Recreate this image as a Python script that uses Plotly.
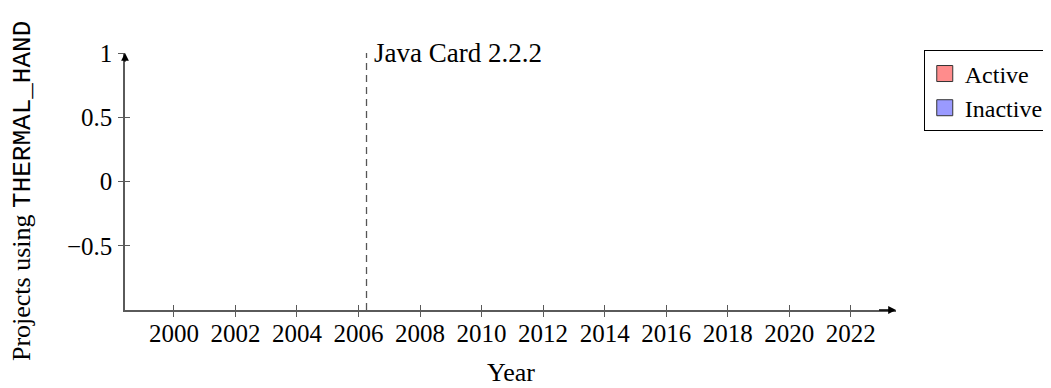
import plotly.graph_objects as go

# Data (the reference plot contains no data points for either series)
years = []
active = []
inactive = []

series_names = ["Active", "Inactive"]
series_fill = ["#ff8c8c", "#9a9aff"]

x_tickvals = [2000, 2002, 2004, 2006, 2008, 2010, 2012, 2014, 2016, 2018, 2020, 2022]
y_tickvals = [-0.5, 0, 0.5, 1]
y_ticktext = ["\u22120.5", "0", "0.5", "1"]

x_range = [1998.41, 2023.47]
y_range = [-1.0, 1.0]

event_x = 2006.26
event_label = "Java Card 2.2.2"

SERIF = "Liberation Serif"
MONO = "Liberation Mono"
AXIS_COLOR = "#5a5a5a"

fig = go.Figure()

for name, vals, col in zip(series_names, [active, inactive], series_fill):
    fig.add_trace(go.Scatter(
        x=years if years else [None], y=vals if vals else [None],
        name=name, mode="markers",
        marker=dict(symbol="square", size=17, color=col,
                    line=dict(color="#333333", width=1)),
    ))

# invisible overlay to get "crossing" ticks (inside part)
fig.add_trace(go.Scatter(x=[None], y=[None], xaxis="x2", yaxis="y2",
                         showlegend=False, hoverinfo="skip"))

# event line
fig.add_shape(type="line", xref="x", yref="y",
              x0=event_x, x1=event_x, y0=y_range[0], y1=y_range[1],
              line=dict(color="#555555", width=1.3, dash="7px,5px"))

fig.add_annotation(x=event_x, y=y_range[1], xref="x", yref="y",
                   text=event_label, showarrow=False,
                   xanchor="left", yanchor="middle", xshift=5,
                   font=dict(family=SERIF, size=27, color="black"))

# axis arrows
fig.add_annotation(x=x_range[1], y=y_range[0], ax=x_range[1] - 0.6, ay=y_range[0],
                   xref="x", yref="y", axref="x", ayref="y",
                   text="", showarrow=True, arrowhead=2, arrowsize=1.2,
                   arrowwidth=1.3, arrowcolor="black")
fig.add_annotation(x=x_range[0], y=y_range[1], ax=x_range[0], ay=y_range[1] - 0.08,
                   xref="x", yref="y", axref="x", ayref="y",
                   text="", showarrow=True, arrowhead=2, arrowsize=1.2,
                   arrowwidth=1.3, arrowcolor="black")

# axis titles
fig.add_annotation(x=0.5, y=-0.2424, xref="paper", yref="paper",
                   text="Year", showarrow=False, xanchor="center", yanchor="middle",
                   font=dict(family=SERIF, size=26, color="black"))
fig.add_annotation(x=-0.132, y=0.4636, xref="paper", yref="paper",
                   text="Projects using <span style=\"font-family:" + MONO + "\">THERMAL_HAND</span>",
                   textangle=-90, showarrow=False, xanchor="center", yanchor="middle",
                   font=dict(family=SERIF, size=26, color="black"))

axis_common = dict(showgrid=False, zeroline=False, showline=True,
                   linecolor=AXIS_COLOR, linewidth=1.5,
                   tickcolor=AXIS_COLOR, tickwidth=1, ticklen=5,
                   tickfont=dict(family=SERIF, size=25, color="black"))

# page body has an 8px default margin -> canvas is 8px smaller, offsets adjusted
fig.update_layout(
    width=1043, height=380,
    margin=dict(l=117, r=155, t=44.7, b=77.5, autoexpand=False),
    paper_bgcolor="white", plot_bgcolor="white",
    xaxis=dict(range=x_range, tickvals=x_tickvals, ticks="outside",
               ticklabelstandoff=-5, **axis_common),
    yaxis=dict(range=y_range, tickvals=y_tickvals, ticktext=y_ticktext,
               ticks="outside", ticklabelstandoff=1, **axis_common),
    xaxis2=dict(range=x_range, tickvals=x_tickvals, ticks="inside", overlaying="x",
                showticklabels=False, showgrid=False, zeroline=False, showline=False,
                tickcolor=AXIS_COLOR, tickwidth=1, ticklen=5, matches="x"),
    yaxis2=dict(range=y_range, tickvals=y_tickvals, ticks="inside", overlaying="y",
                showticklabels=False, showgrid=False, zeroline=False, showline=False,
                tickcolor=AXIS_COLOR, tickwidth=1, ticklen=5, matches="y"),
    showlegend=True,
    legend=dict(x=1.036, y=1.01, xanchor="left", yanchor="top",
                bordercolor="black", borderwidth=1, bgcolor="white",
                font=dict(family=SERIF, size=24, color="black"),
                traceorder="normal", tracegroupgap=0, itemwidth=30),
)

fig.write_html("out.html")
